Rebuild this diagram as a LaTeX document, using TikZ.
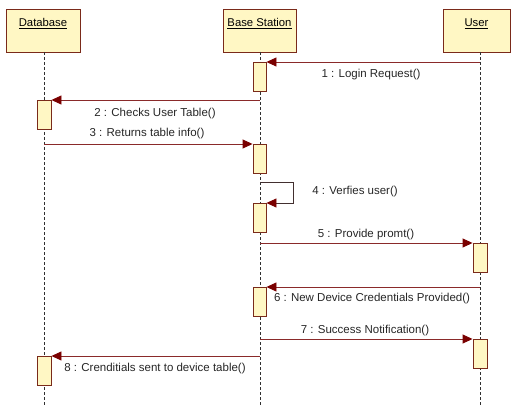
\documentclass[tikz,border=0pt]{standalone}
\usepackage{fontspec}
\setmainfont{Liberation Sans}
\usetikzlibrary{arrows.meta}
\definecolor{headfill}{HTML}{FFF7C4}
\definecolor{boxline}{HTML}{7A2A1A}
\definecolor{msgline}{HTML}{8A2A2A}
\definecolor{tipred}{HTML}{7A0000}
\definecolor{lifegray}{HTML}{303030}
\tikzset{
  head/.style={draw=boxline, fill=headfill, line width=0.9pt, minimum width=73pt,
    minimum height=43pt, inner sep=0pt, anchor=north},
  headlabel/.style={font=\fontsize{11.3}{13}\selectfont, inner sep=0pt},
  lifeline/.style={draw=lifegray, line width=0.8pt, dash pattern=on 3pt off 2pt},
  actbox/.style={draw=boxline, fill=headfill, line width=0.9pt, minimum width=13pt,
    minimum height=29pt, inner sep=0pt, anchor=north},
  msg/.style={draw=msgline, line width=0.9pt,
    -{Triangle[length=10pt,width=9pt,fill=tipred,color=tipred]}},
  selfmsg/.style={draw=lifegray!80!msgline, line width=0.8pt,
    -{Triangle[length=10pt,width=9pt,fill=tipred,color=tipred]}},
  msglabel/.style={font=\fontsize{11.5}{13}\selectfont, text=black!85, inner sep=0pt}
}
\begin{document}
\begin{tikzpicture}[x=1pt,y=-1pt]
\useasboundingbox (0,0) rectangle (511,406);

% participants
\node[head, minimum width=74pt] (db) at (43,9) {};
\node[head] (bs) at (259.5,9) {};
\node[head, minimum width=67pt] (us) at (476.5,9) {};
\node[headlabel] at (43,23.5) {\underline{Database}};
\node[headlabel] at (259.5,23.5) {\underline{Base Station}};
\node[headlabel] at (476.5,23.5) {\underline{User}};

% lifelines
\coordinate (dbEnd) at (44,406);
\coordinate (bsEnd) at (260,406);
\coordinate (usEnd) at (480,406);
\draw[lifeline] (44,52) -- (dbEnd);
\draw[lifeline] (260,52) -- (bsEnd);
\draw[lifeline] (480,52) -- (usEnd);

% activation bars
\node[actbox] (bsA1) at (259.5,62) {};
\node[actbox] (bsA2) at (259.5,144) {};
\node[actbox] (bsA3) at (259.5,203) {};
\node[actbox] (bsA4) at (259.5,287) {};
\node[actbox, minimum width=14pt] (dbA1) at (44,100) {};
\node[actbox, minimum width=14pt] (dbA2) at (44,356) {};
\node[actbox, minimum width=14pt] (usA1) at (480,243) {};
\node[actbox, minimum width=14pt] (usA2) at (480,339) {};

% message origins on the lifelines
\coordinate (s1) at (480,62);
\coordinate (s2) at (260,100);
\coordinate (s3) at (44,144);
\coordinate (s4) at (260,182);
\coordinate (s5) at (260,243);
\coordinate (s6) at (480,287);
\coordinate (s7) at (260,339);
\coordinate (s8) at (260,356);

% messages
\draw[msg] (s1) -- (bsA1.north east);
\draw[msg] (s2) -- (dbA1.north east);
\draw[msg] (s3) -- (bsA2.north west);
\draw[selfmsg] (s4) -- ++(33,0) |- (bsA3.north east);
\draw[msg] (s5) -- (usA1.north west);
\draw[msg] (s6) -- (bsA4.north east);
\draw[msg] (s7) -- (usA2.north west);
\draw[msg] (s8) -- (dbA2.north east);

% message labels
\node[msglabel] (l1) at (371,74.5) {1 : Login Request()};
\node[msglabel] (l2) at (155,113.5) {2 : Checks User Table()};
\node[msglabel] (l3) at (147,133.5) {3 : Returns table info()};
\node[msglabel] (l4) at (355,191.5) {4 : Verfies user()};
\node[msglabel] (l5) at (366,234.5) {5 : Provide promt()};
\node[msglabel] (l6) at (372,298.5) {6 : New Device Credentials Provided()};
\node[msglabel] (l7) at (365,330.5) {7 : Success Notification()};
\node[msglabel] (l8) at (155,368.5) {8 : Crenditials sent to device table()};
\end{tikzpicture}
\end{document}
